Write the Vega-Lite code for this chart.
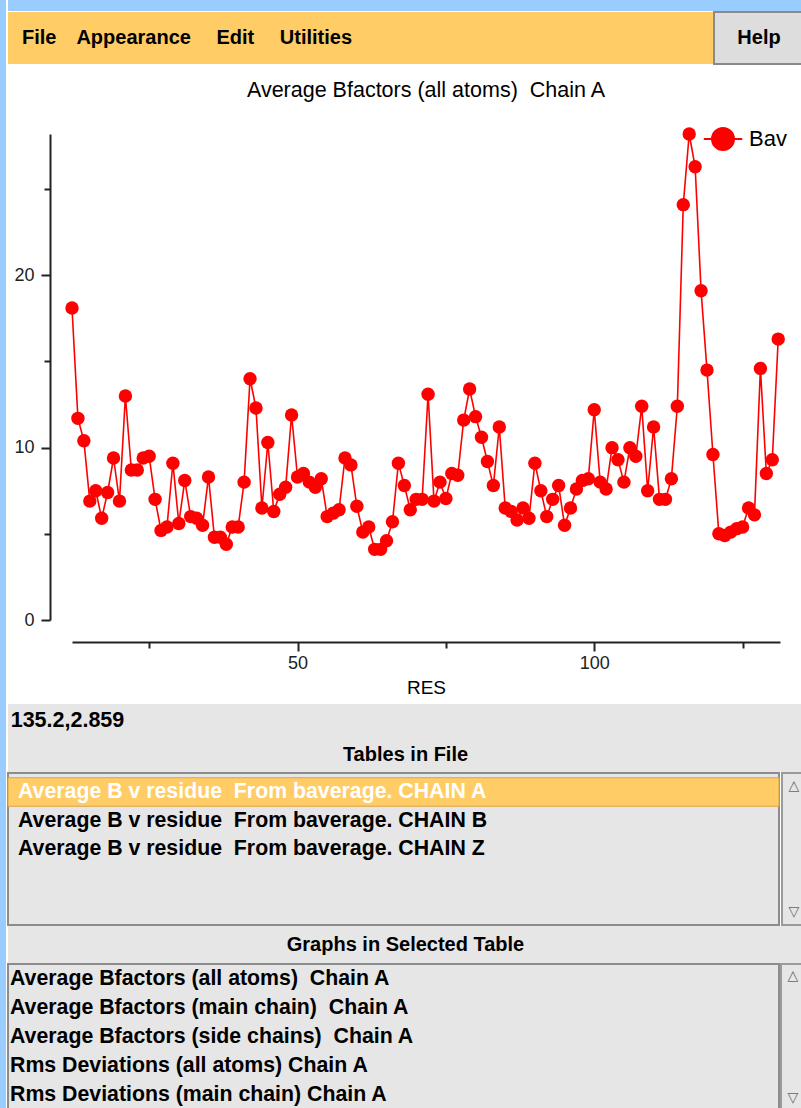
{
  "$schema": "https://vega.github.io/schema/vega-lite/v6.json",
  "background": "white",
  "padding": 0,
  "spacing": 0,
  "config": {
    "view": {"stroke": null},
    "concat": {"spacing": 0},
    "font": "Liberation Sans"
  },
  "resolve": {"scale": {"color": "independent", "x": "independent", "y": "independent"}, "legend": {"color": "independent"}},
  "datasets": {
    "bav": [
      {"RES": 12, "Bav": 18.1}, {"RES": 13, "Bav": 11.7}, {"RES": 14, "Bav": 10.4}, {"RES": 15, "Bav": 6.9},
      {"RES": 16, "Bav": 7.5}, {"RES": 17, "Bav": 5.9}, {"RES": 18, "Bav": 7.4}, {"RES": 19, "Bav": 9.4},
      {"RES": 20, "Bav": 6.9}, {"RES": 21, "Bav": 13.0}, {"RES": 22, "Bav": 8.7}, {"RES": 23, "Bav": 8.7},
      {"RES": 24, "Bav": 9.4}, {"RES": 25, "Bav": 9.5}, {"RES": 26, "Bav": 7.0}, {"RES": 27, "Bav": 5.2},
      {"RES": 28, "Bav": 5.4}, {"RES": 29, "Bav": 9.1}, {"RES": 30, "Bav": 5.6}, {"RES": 31, "Bav": 8.1},
      {"RES": 32, "Bav": 6.0}, {"RES": 33, "Bav": 5.9}, {"RES": 34, "Bav": 5.5}, {"RES": 35, "Bav": 8.3},
      {"RES": 36, "Bav": 4.8}, {"RES": 37, "Bav": 4.8}, {"RES": 38, "Bav": 4.4}, {"RES": 39, "Bav": 5.4},
      {"RES": 40, "Bav": 5.4}, {"RES": 41, "Bav": 8.0}, {"RES": 42, "Bav": 14.0}, {"RES": 43, "Bav": 12.3},
      {"RES": 44, "Bav": 6.5}, {"RES": 45, "Bav": 10.3}, {"RES": 46, "Bav": 6.3}, {"RES": 47, "Bav": 7.3},
      {"RES": 48, "Bav": 7.7}, {"RES": 49, "Bav": 11.9}, {"RES": 50, "Bav": 8.3}, {"RES": 51, "Bav": 8.5},
      {"RES": 52, "Bav": 8.0}, {"RES": 53, "Bav": 7.7}, {"RES": 54, "Bav": 8.2}, {"RES": 55, "Bav": 6.0},
      {"RES": 56, "Bav": 6.2}, {"RES": 57, "Bav": 6.4}, {"RES": 58, "Bav": 9.4}, {"RES": 59, "Bav": 9.0},
      {"RES": 60, "Bav": 6.6}, {"RES": 61, "Bav": 5.1}, {"RES": 62, "Bav": 5.4}, {"RES": 63, "Bav": 4.1},
      {"RES": 64, "Bav": 4.1}, {"RES": 65, "Bav": 4.6}, {"RES": 66, "Bav": 5.7}, {"RES": 67, "Bav": 9.1},
      {"RES": 68, "Bav": 7.8}, {"RES": 69, "Bav": 6.4}, {"RES": 70, "Bav": 7.0}, {"RES": 71, "Bav": 7.0},
      {"RES": 72, "Bav": 13.1}, {"RES": 73, "Bav": 6.9}, {"RES": 74, "Bav": 8.0}, {"RES": 75, "Bav": 7.05},
      {"RES": 76, "Bav": 8.5}, {"RES": 77, "Bav": 8.4}, {"RES": 78, "Bav": 11.6}, {"RES": 79, "Bav": 13.4},
      {"RES": 80, "Bav": 11.8}, {"RES": 81, "Bav": 10.6}, {"RES": 82, "Bav": 9.2}, {"RES": 83, "Bav": 7.8},
      {"RES": 84, "Bav": 11.2}, {"RES": 85, "Bav": 6.5}, {"RES": 86, "Bav": 6.3}, {"RES": 87, "Bav": 5.8},
      {"RES": 88, "Bav": 6.5}, {"RES": 89, "Bav": 5.9}, {"RES": 90, "Bav": 9.1}, {"RES": 91, "Bav": 7.5},
      {"RES": 92, "Bav": 6.0}, {"RES": 93, "Bav": 7.0}, {"RES": 94, "Bav": 7.8}, {"RES": 95, "Bav": 5.5},
      {"RES": 96, "Bav": 6.5}, {"RES": 97, "Bav": 7.6}, {"RES": 98, "Bav": 8.1}, {"RES": 99, "Bav": 8.2},
      {"RES": 100, "Bav": 12.2}, {"RES": 101, "Bav": 8.0}, {"RES": 102, "Bav": 7.6}, {"RES": 103, "Bav": 10.0},
      {"RES": 104, "Bav": 9.3}, {"RES": 105, "Bav": 8.0}, {"RES": 106, "Bav": 10.0}, {"RES": 107, "Bav": 9.5},
      {"RES": 108, "Bav": 12.4}, {"RES": 109, "Bav": 7.5}, {"RES": 110, "Bav": 11.2}, {"RES": 111, "Bav": 7.0},
      {"RES": 112, "Bav": 7.0}, {"RES": 113, "Bav": 8.2}, {"RES": 114, "Bav": 12.4}, {"RES": 115, "Bav": 24.1},
      {"RES": 116, "Bav": 28.2}, {"RES": 117, "Bav": 26.3}, {"RES": 118, "Bav": 19.1}, {"RES": 119, "Bav": 14.5},
      {"RES": 120, "Bav": 9.6}, {"RES": 121, "Bav": 5.0}, {"RES": 122, "Bav": 4.9}, {"RES": 123, "Bav": 5.1},
      {"RES": 124, "Bav": 5.3}, {"RES": 125, "Bav": 5.4}, {"RES": 126, "Bav": 6.5}, {"RES": 127, "Bav": 6.1},
      {"RES": 128, "Bav": 14.6}, {"RES": 129, "Bav": 8.5}, {"RES": 130, "Bav": 9.3}, {"RES": 131, "Bav": 16.3}
    ],
    "one": [{"k": 1}],
    "list1": [
      {"row": 1, "label": "Average B v residue\u00a0 From baverage. CHAIN A", "sel": true},
      {"row": 2, "label": "Average B v residue\u00a0 From baverage. CHAIN B", "sel": false},
      {"row": 3, "label": "Average B v residue\u00a0 From baverage. CHAIN Z", "sel": false}
    ],
    "list2": [
      {"row": 1, "label": "Average Bfactors (all atoms)\u00a0 Chain A"},
      {"row": 2, "label": "Average Bfactors (main chain)\u00a0 Chain A"},
      {"row": 3, "label": "Average Bfactors (side chains)\u00a0 Chain A"},
      {"row": 4, "label": "\u00a0Rms Deviations (all atoms) Chain A"},
      {"row": 5, "label": "\u00a0Rms Deviations (main chain) Chain A"}
    ],
    "arrows": [{"p": "a", "t": "\u25b3"}, {"p": "f", "t": "\u25bd"}]
  },
  "hconcat": [
    {
      "width": 6, "height": 1108,
      "view": {"fill": "#99ccff", "stroke": null},
      "data": {"name": "one"},
      "mark": {"type": "text", "text": "", "fontSize": 0}
    },
    {
      "resolve": {"scale": {"color": "independent", "x": "independent", "y": "independent"}, "legend": {"color": "independent"}},
      "vconcat": [
        {
          "width": 795, "height": 11,
          "view": {"fill": "#99ccff", "stroke": null},
          "data": {"name": "one"},
          "mark": {"type": "text", "text": "", "fontSize": 0}
        },
        {
          "hconcat": [
            {
              "width": 358, "height": 52,
              "view": {"fill": "#ffcc66", "stroke": null},
              "data": {"name": "one"},
              "mark": {"type": "text", "text": "File\u2002\u2002Appearance\u2002\u2002\u00a0Edit\u2002\u2002\u00a0Utilities", "font": "Liberation Sans", "fontSize": 20, "fontWeight": "bold", "color": "#000000"}
            },
            {
              "width": 347, "height": 52,
              "view": {"fill": "#ffcc66", "stroke": null},
              "data": {"name": "one"},
              "mark": {"type": "text", "text": "", "fontSize": 0}
            },
            {
              "width": 90, "height": 52,
              "view": {"fill": "#dddddd", "stroke": "#8a8a8a", "strokeWidth": 2},
              "data": {"name": "one"},
              "mark": {"type": "text", "text": "Help", "font": "Liberation Sans", "fontSize": 20, "fontWeight": "bold", "color": "#000000"}
            }
          ]
        },
        {
          "width": 795, "height": 14,
          "data": {"name": "one"},
          "mark": {"type": "text", "text": "", "fontSize": 0}
        },
        {
          "resolve": {"scale": {"color": "independent", "x": "independent", "y": "independent"}, "legend": {"color": "independent"}},
          "hconcat": [
            {
              "width": 5, "height": 10,
              "data": {"name": "one"},
              "mark": {"type": "text", "text": "", "fontSize": 0}
            },
            {
              "width": 708, "height": 486,
              "title": {"text": "Average Bfactors (all atoms)\u00a0 Chain A", "font": "Liberation Sans", "fontSize": 21.5, "fontWeight": "normal", "color": "#000000", "anchor": "middle", "baseline": "alphabetic", "offset": 9},
              "data": {"name": "bav"},
              "encoding": {
                "x": {
                  "field": "RES", "type": "quantitative",
                  "scale": {"domain": [12, 131.3], "nice": false, "zero": false},
                  "axis": {
                    "title": "RES", "titleFont": "Liberation Sans", "titleFontSize": 19, "titleFontWeight": "normal", "titleColor": "#000000", "titlePadding": 6,
                    "values": [25, 50, 75, 100, 125],
                    "labelExpr": "datum.value % 50 === 0 ? datum.label : ''",
                    "tickSize": {"condition": {"test": "datum.value % 50 === 0", "value": 9}, "value": 6},
                    "offset": 22, "grid": false,
                    "domainColor": "#222222", "domainWidth": 2, "tickColor": "#222222", "tickWidth": 2,
                    "labelFont": "Liberation Sans", "labelFontSize": 18, "labelColor": "#222222", "labelPadding": 3
                  }
                },
                "y": {
                  "field": "Bav", "type": "quantitative",
                  "scale": {"domain": [0, 28.2], "nice": false},
                  "axis": {
                    "title": null,
                    "values": [0, 5, 10, 15, 20, 25],
                    "labelExpr": "datum.value % 10 === 0 ? datum.label : ''",
                    "tickSize": {"condition": {"test": "datum.value % 10 === 0", "value": 9}, "value": 6},
                    "offset": 22, "grid": false,
                    "domainColor": "#222222", "domainWidth": 2, "tickColor": "#222222", "tickWidth": 2,
                    "labelFont": "Liberation Sans", "labelFontSize": 18, "labelColor": "#222222", "labelPadding": 7
                  }
                },
                "color": {
                  "datum": "Bav", "type": "nominal",
                  "scale": {"range": ["#ff0000"]},
                  "legend": {
                    "title": null, "orient": "top-right", "offset": -7,
                    "symbolType": "M-1.75,0L1.75,0M1,0A1,1,0,1,1,-1,0A1,1,0,1,1,1,0Z",
                    "symbolSize": 484, "symbolFillColor": "#ff0000", "symbolStrokeColor": "#ff0000", "symbolStrokeWidth": 2,
                    "labelFont": "Liberation Sans", "labelFontSize": 22, "labelColor": "#000000", "labelOffset": 14
                  }
                }
              },
              "layer": [
                {"mark": {"type": "line", "strokeWidth": 1.6, "clip": false}},
                {"mark": {"type": "point", "filled": true, "size": 180, "opacity": 1, "shape": "circle", "clip": false}}
              ]
            }
          ]
        },
        {
          "width": 795, "height": 7,
          "data": {"name": "one"},
          "mark": {"type": "text", "text": "", "fontSize": 0}
        },
        {
          "hconcat": [
            {
              "width": 119, "height": 33,
              "view": {"fill": "#e6e6e6", "stroke": null},
              "data": {"name": "one"},
              "mark": {"type": "text", "text": "135.2,2.859", "font": "Liberation Sans", "fontSize": 21.5, "fontWeight": "bold", "color": "#000000"}
            },
            {
              "width": 676, "height": 33,
              "view": {"fill": "#e6e6e6", "stroke": null},
              "data": {"name": "one"},
              "mark": {"type": "text", "text": "", "fontSize": 0}
            }
          ]
        },
        {
          "width": 795, "height": 35,
          "view": {"fill": "#e6e6e6", "stroke": null},
          "data": {"name": "one"},
          "mark": {"type": "text", "text": "Tables in File", "font": "Liberation Sans", "fontSize": 20, "fontWeight": "bold", "color": "#000000"}
        },
        {
          "resolve": {"scale": {"x": "independent", "y": "independent"}},
          "hconcat": [
            {
              "width": 771, "height": 152,
              "view": {"fill": "#e6e6e6", "stroke": "#8c8c8c", "strokeWidth": 2},
              "data": {"name": "list1"},
              "encoding": {
                "y": {"field": "row", "type": "ordinal", "axis": null, "scale": {"domain": [1, 2, 3, 4, 5], "paddingInner": 0, "paddingOuter": 0.1667}}
              },
              "layer": [
                {
                  "transform": [{"filter": "datum.sel"}],
                  "mark": {"type": "rect", "fill": "#ffcc66", "stroke": "#d9a441", "strokeWidth": 1}
                },
                {
                  "mark": {"type": "text", "align": "left", "dx": 10, "font": "Liberation Sans", "fontSize": 21.3, "fontWeight": "bold"},
                  "encoding": {
                    "x": {"datum": 0, "type": "quantitative", "scale": {"domain": [0, 1]}, "axis": null},
                    "text": {"field": "label"},
                    "color": {"condition": {"test": "datum.sel", "value": "#ffffff"}, "value": "#000000"}
                  }
                }
              ]
            },
            {
              "width": 24, "height": 152,
              "view": {"fill": "#e6e6e6", "stroke": "#9a9a9a", "strokeWidth": 2},
              "data": {"name": "arrows"},
              "mark": {"type": "text", "font": "DejaVu Sans", "fontSize": 14, "color": "#666666"},
              "encoding": {
                "y": {"field": "p", "type": "nominal", "axis": null, "scale": {"domain": ["a", "b", "c", "d", "e", "f"], "paddingInner": 0, "paddingOuter": 0}},
                "text": {"field": "t"}
              }
            }
          ]
        },
        {
          "width": 795, "height": 37,
          "view": {"fill": "#e6e6e6", "stroke": null},
          "data": {"name": "one"},
          "mark": {"type": "text", "text": "Graphs in Selected Table", "font": "Liberation Sans", "fontSize": 20, "fontWeight": "bold", "color": "#000000"}
        },
        {
          "resolve": {"scale": {"x": "independent", "y": "independent"}},
          "hconcat": [
            {
              "width": 771, "height": 146,
              "view": {"fill": "#e6e6e6", "stroke": "#8c8c8c", "strokeWidth": 2},
              "data": {"name": "list2"},
              "mark": {"type": "text", "align": "left", "dx": 2, "font": "Liberation Sans", "fontSize": 21.3, "fontWeight": "bold", "color": "#000000"},
              "encoding": {
                "y": {"field": "row", "type": "ordinal", "axis": null, "scale": {"domain": [1, 2, 3, 4, 5], "paddingInner": 0, "paddingOuter": 0.107}},
                "x": {"datum": 0, "type": "quantitative", "scale": {"domain": [0, 1]}, "axis": null},
                "text": {"field": "label"}
              }
            },
            {
              "width": 24, "height": 146,
              "view": {"fill": "#e6e6e6", "stroke": "#9a9a9a", "strokeWidth": 2},
              "data": {"name": "arrows"},
              "mark": {"type": "text", "font": "DejaVu Sans", "fontSize": 14, "color": "#666666"},
              "encoding": {
                "y": {"field": "p", "type": "nominal", "axis": null, "scale": {"domain": ["a", "b", "c", "d", "e", "f"], "paddingInner": 0, "paddingOuter": 0}},
                "text": {"field": "t"}
              }
            }
          ]
        }
      ]
    }
  ]
}
